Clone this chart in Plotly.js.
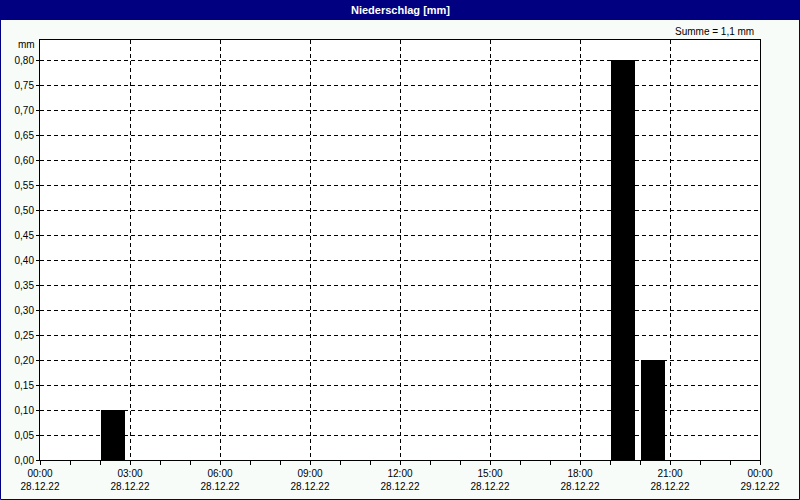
<!DOCTYPE html>
<html>
<head>
<meta charset="utf-8">
<script src="https://cdn.plot.ly/plotly-3.0.1.min.js"></script>
<style>
html,body{margin:0;padding:0;background:#f8fcf8;}
#chart{width:800px;height:500px;}
</style>
</head>
<body>
<div id="chart"></div>
<script>
// Data
const title = "Niederschlag [mm]";
const sumText = "Summe = 1,1 mm";
const unitLabel = "mm";
const barTimes = ["2022-12-28 02:00", "2022-12-28 19:00", "2022-12-28 20:00"];
const barValues = [0.1, 0.8, 0.2];
const xRange = ["2022-12-28 00:00", "2022-12-29 00:00"];
const yMax = 0.84;

const HOUR = 3600000;
const W = 800, H = 500, L = 40, R = 40, T = 40, B = 40;
const pw = W - L - R, ph = H - T - B;
const px = v => (v - L) / pw;           // pixel x -> paper
const py = v => (H - B - v) / ph;       // pixel y -> paper

const trace = {
  type: "bar",
  x: barTimes,
  y: barValues,
  offset: 2 * 60000,
  width: 48 * 60000,
  marker: {color: "#000000", line: {width: 0}},
  hoverinfo: "skip"
};

const navy = "#000080";
const layout = {
  width: W, height: H,
  margin: {l: L, r: R, t: T, b: B, pad: 0},
  paper_bgcolor: "#f8fcf8",
  plot_bgcolor: "#ffffff",
  showlegend: false,
  separators: ",.",
  bargap: 0,
  font: {family: "Liberation Sans, Arial, sans-serif", size: 10, color: "#000"},
  xaxis: {
    type: "date",
    range: xRange,
    dtick: 3 * HOUR,
    tick0: "2022-12-28 00:00",
    tickformat: "%H:%M<br>%d.%m.%y",
    ticks: "outside", ticklen: 4, tickcolor: "#000", tickwidth: 1,
    showgrid: true, gridcolor: "#000", gridwidth: 1, griddash: "4px,3px",
    minor: {dtick: HOUR, ticks: "outside", ticklen: 4, tickcolor: "#000", showgrid: false},
    showline: true, linecolor: "#000", linewidth: 1, mirror: true,
    zeroline: false, fixedrange: true,
    tickfont: {size: 10, color: "#000"}
  },
  yaxis: {
    range: [0, yMax],
    dtick: 0.05, tick0: 0,
    tickformat: ".2f",
    ticks: "outside", ticklen: 3, tickcolor: "#000",
    showgrid: true, gridcolor: "#000", gridwidth: 1, griddash: "4px,3px",
    showline: true, linecolor: "#000", linewidth: 1, mirror: true,
    zeroline: false, fixedrange: true,
    tickfont: {size: 10, color: "#000"}
  },
  shapes: [
    {type: "rect", xref: "paper", yref: "paper",
     x0: px(0), x1: px(800), y0: py(20), y1: py(0),
     fillcolor: navy, line: {width: 0}, layer: "above"},
    {type: "rect", xref: "paper", yref: "paper",
     x0: px(0.5), x1: px(799.5), y0: py(499.5), y1: py(0.5),
     fillcolor: "rgba(0,0,0,0)", line: {color: navy, width: 1}, layer: "above"}
  ],
  annotations: [
    {text: "<b>" + title + "</b>", xref: "paper", yref: "paper",
     x: px(400), y: py(10), xanchor: "center", yanchor: "middle", showarrow: false,
     font: {color: "#fff", size: 11, family: "Liberation Sans, Arial, sans-serif"}},
    {text: sumText, xref: "paper", yref: "paper",
     x: px(756), y: py(31), xanchor: "right", yanchor: "middle", showarrow: false,
     font: {size: 10, color: "#000"}},
    {text: unitLabel, xref: "paper", yref: "paper",
     x: px(37), y: py(45), xanchor: "right", yanchor: "middle", showarrow: false,
     font: {size: 10, color: "#000"}}
  ]
};

Plotly.newPlot("chart", [trace], layout, {displayModeBar: false, staticPlot: true});
</script>
</body>
</html>
